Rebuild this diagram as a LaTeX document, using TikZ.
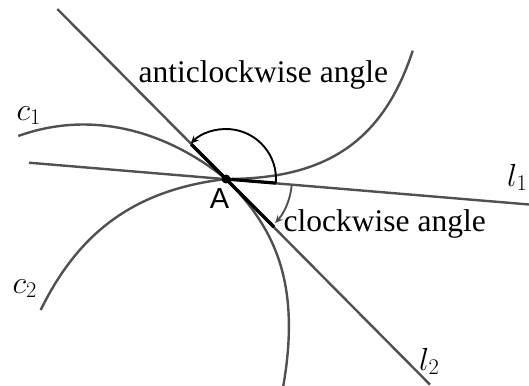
\RequirePackage{fix-cm}
\documentclass[tikz,border=0pt]{standalone}
\usepackage{fontspec}
\setmainfont{Liberation Serif}
\newfontfamily\labelsans{Liberation Sans}
\usetikzlibrary{arrows.meta,calc}
\definecolor{linegray}{RGB}{80,80,80}
\begin{document}
\begin{tikzpicture}[x=1pt,y=-1pt,
  geo/.style={draw=linegray, line width=2.4pt},
  seg/.style={draw=black, line width=3.2pt},
  txt/.style={anchor=base west, inner sep=0pt, font=\fontsize{31.5}{36}\selectfont},
  mlab/.style={anchor=base west, inner sep=0pt, font=\fontsize{32}{38}\selectfont},
  tip/.style={-{Stealth[length=8pt,width=7pt]}}]
\useasboundingbox (0,0) rectangle (529,385);

\coordinate (A) at (226,179);
\coordinate (l1a) at (29,162.7);
\coordinate (l1b) at (529,204.5);
\coordinate (l2a) at (57.3,9);
\coordinate (l2b) at (430,384.6);

% tangent lines
\draw[geo] (l1a) -- (l1b);
\draw[geo] (l2a) -- (l2b);

% curve c1
\coordinate (c1s) at (18.3,136);
\coordinate (c1e) at (283.3,386);
\draw[geo] (c1s) .. controls (88.8,110.5) and (163.6,128.6) .. (A)
  .. controls (271.5,225.2) and (302,278.2) .. (c1e);

% curve c2
\coordinate (c2s) at (40.7,310);
\coordinate (c2e) at (412.7,50.7);
\draw[geo] (c2s) .. controls (80.3,229) and (138,189.5) .. (A)
  .. controls (321,179) and (381.6,146) .. (c2e);

% thick direction segments
\coordinate (d1) at ($(A)+(4.7:50)$);
\coordinate (d2) at ($(A)+(-135:49)$);
\coordinate (d3) at ($(A)+(45:68)$);
\coordinate (e1) at ($(A)+(4.7:66)$);
\draw[seg] (A) -- (d1);
\draw[seg] (A) -- (d2);
\draw[seg] (A) -- (d3);

% angle arcs
\draw[tip, draw=black, line width=1.9pt] (d1) arc[start angle=4.7, end angle=-135, radius=50];
\draw[tip, draw=linegray, line width=1.9pt] (e1) arc[start angle=4.7, end angle=42, radius=66];

% point A
\fill[black] (A) circle[radius=4.5];
\node[anchor=base, inner sep=0pt, font=\labelsans\fontsize{29}{34}\selectfont] (Alab) at (219.5,208) {A};

% labels
\node[txt] (acw) at (138.5,83) {anticlockwise angle};
\node[txt] (cw) at (283.5,231.7) {clockwise angle};
\node[mlab] (c1) at (16.5,120) {$c_1$};
\node[mlab] (c2) at (12.5,293) {$c_2$};
\node[mlab] (l1) at (507,186) {$l_1$};
\node[mlab] (l2) at (419,370) {$l_2$};
\end{tikzpicture}
\end{document}
